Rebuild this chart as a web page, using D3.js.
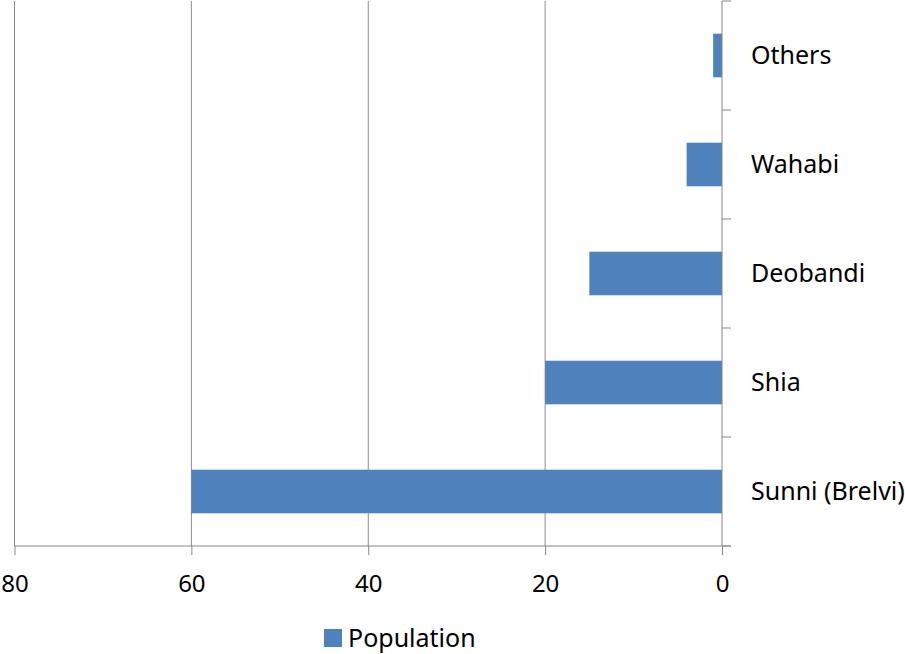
<!DOCTYPE html>
<html>
<head>
<meta charset="utf-8">
<script src="https://cdn.jsdelivr.net/npm/d3@7"></script>
<style>
  body { margin: 0; background: #fff; }
  text { font-family: "Noto Sans", "Open Sans", sans-serif; fill: #000; }
</style>
</head>
<body>
<svg id="chart"></svg>
<script>
const categories = ["Others", "Wahabi", "Deobandi", "Shia", "Sunni (Brelvi)"];
const population = [1, 4, 15, 20, 60];
const xTicks = [80, 60, 40, 20, 0];

const width = 905;
const height = 654;
const margin = { top: 1, right: 183, bottom: 108, left: 14.5 };

const svg = d3.select("#chart")
  .attr("width", width)
  .attr("height", height);

const x = d3.scaleLinear()
  .domain([80, 0])
  .range([margin.left, width - margin.right]);

const y = d3.scaleBand()
  .domain(categories)
  .range([margin.top, height - margin.bottom])
  .paddingInner(0.6)
  .paddingOuter(0.3);

const axisColor = "#868686";
const gridColor = "#8c8c8c";
const plotTop = margin.top;
const plotBottom = height - margin.bottom;

// vertical gridlines
svg.append("g")
  .selectAll("line")
  .data(xTicks.filter(d => d !== 0))
  .enter()
  .append("line")
  .attr("x1", d => x(d))
  .attr("x2", d => x(d))
  .attr("y1", plotTop)
  .attr("y2", plotBottom)
  .attr("stroke", gridColor)
  .attr("stroke-width", 1);

// bars
svg.append("g")
  .selectAll("rect")
  .data(categories)
  .enter()
  .append("rect")
  .attr("x", (d, i) => x(population[i]))
  .attr("y", d => y(d))
  .attr("width", (d, i) => x(0) - x(population[i]))
  .attr("height", y.bandwidth())
  .attr("fill", "#4F81BD");

// bottom axis
const xAxis = svg.append("g")
  .attr("transform", `translate(0, ${plotBottom})`)
  .call(d3.axisBottom(x).tickValues(xTicks).tickSize(9).tickPadding(20).tickSizeOuter(0));
xAxis.select(".domain").remove();
xAxis.append("line")
  .attr("x1", x(80))
  .attr("x2", x(0) + 9)
  .attr("stroke", axisColor);
xAxis.selectAll(".tick line").attr("stroke", axisColor);
xAxis.selectAll(".tick text")
  .style("font-size", "24px")
  .style("font-family", "'Noto Sans', sans-serif")
  .attr("fill", "#000");

// right category axis line and boundary ticks
const boundaries = d3.range(categories.length + 1)
  .map(i => plotTop + i * y.step());

svg.append("line")
  .attr("x1", x(0))
  .attr("x2", x(0))
  .attr("y1", plotTop)
  .attr("y2", plotBottom)
  .attr("stroke", axisColor);

svg.append("g")
  .selectAll("line")
  .data(boundaries)
  .enter()
  .append("line")
  .attr("x1", x(0))
  .attr("x2", x(0) + 9)
  .attr("y1", d => d)
  .attr("y2", d => d)
  .attr("stroke", axisColor);

// category labels
svg.append("g")
  .selectAll("text")
  .data(categories)
  .enter()
  .append("text")
  .attr("x", x(0) + 29)
  .attr("y", d => y(d) + y.bandwidth() / 2)
  .attr("dy", "0.35em")
  .style("font-size", "25px")
  .text(d => d);

// legend
const legend = svg.append("g")
  .attr("transform", "translate(324, 629)");
legend.append("rect")
  .attr("width", 18)
  .attr("height", 18)
  .attr("fill", "#4F81BD");
legend.append("text")
  .attr("x", 24)
  .attr("y", 9)
  .attr("dy", "0.35em")
  .style("font-size", "25px")
  .text("Population");
</script>
</body>
</html>
